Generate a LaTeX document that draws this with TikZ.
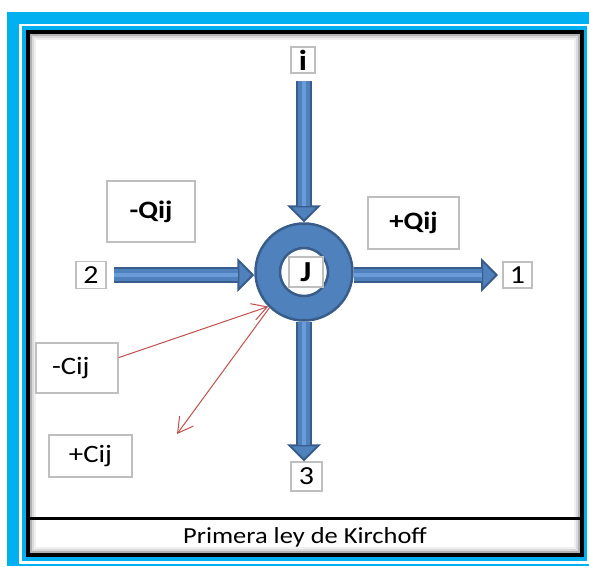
\documentclass[tikz,border=0pt]{standalone}
\usepackage{fontspec}
\setmainfont{Carlito}[FakeStretch=1.15]
\usetikzlibrary{arrows.meta}
\definecolor{cyanband}{HTML}{00B0F0}
\definecolor{jblue}{HTML}{4F81BD}
\definecolor{jdark}{HTML}{385D8A}
\definecolor{jlight}{HTML}{6B9BD8}
\definecolor{boxgray}{HTML}{BFBFBF}
\definecolor{cred}{HTML}{C0504D}
\begin{document}
\begin{tikzpicture}[x=1pt, y=-1pt, line join=miter,
	box/.style={draw=boxgray, line width=1.5pt, fill=white, inner sep=0pt, font=\fontsize{25}{28}\selectfont},
	boldbox/.style={box, font=\bfseries\fontsize{25}{28}\selectfont},
	num/.style={box, font=\fontsize{26}{28}\selectfont},
	flow/.style={draw=jdark, line width=16pt, -{Triangle[length=17pt,width=34pt,line width=2pt,fill=jblue,color=jdark]},
		postaction={draw=jblue, line width=12pt, arrows=-, shorten >=16pt},
		postaction={draw=jlight, line width=4pt, arrows=-, shorten >=16pt}},
	cflow/.style={draw=cred, line width=1pt, -{Straight Barb[length=15pt,width=17pt]}}]
	\useasboundingbox (0,0) rectangle (589,566);
	% frame
	\fill[cyanband] (7,12) rectangle (589,566);
	\draw[white, line width=2.5pt] (20.5,25) rectangle (588.5,562.5);
	\draw[line width=4pt, fill=white] (28,31.5) rectangle (581.5,554.5);
	\foreach \d/\g in {7/6, 5/14, 3/30}
		\draw[black!\g, line width=2pt] (28+\d,31.5+\d) rectangle (581.5-\d,554.5-\d);
	\draw[line width=3pt] (28,518.5) -- (581.5,518.5);
	\node[font=\fontsize{23}{25}\selectfont] (title) at (305,537) {Primera ley de Kirchoff};
	% node J
	\node[circle, draw=jdark, line width=2.5pt, fill=jblue, minimum size=97pt, inner sep=0pt] (ring) at (304,272) {};
	\node[circle, draw=jdark, line width=2.5pt, fill=white, minimum size=48pt, inner sep=0pt] (hole) at (ring) {};
	\node[box, font=\bfseries\fontsize{29}{30}\selectfont, minimum width=34pt, minimum height=30pt] (J) at (306,272) {J};
	% pipes
	\node[num, font=\bfseries\fontsize{29}{30}\selectfont, minimum width=24pt, minimum height=26pt] (ni) at (303,60) {i};
	\node[num, minimum width=30pt, minimum height=27pt] (n2) at (91,275) {2};
	\node[num, minimum width=29pt, minimum height=26pt, outer sep=5pt] (n1) at (517.5,275) {1};
	\node[num, minimum width=31pt, minimum height=29pt] (n3) at (306.5,476.5) {3};
	\draw[flow, shorten <=7pt] (ring.north |- ni.south) -- (ring.north);
	\draw[flow, shorten <=7pt] (n2.east) -- (n2.east -| ring.west);
	\draw[flow] (ring.east |- n1.west) -- (n1.west);
	\draw[flow] (ring.south) -- (ring.south |- n3.north);
	% flows and loads
	\node[boldbox, minimum width=88pt, minimum height=61pt] (qm) at (151,211.5) {-Qij};
	\node[boldbox, minimum width=91pt, minimum height=52pt] (qp) at (413.5,223) {+Qij};
	\node[box, minimum height=50pt, text width=50pt, inner xsep=16pt, align=left] (cm) at (77,368) {-Cij};
	\node[box, minimum width=83pt, minimum height=42pt] (cp) at (90.5,456) {+Cij};
	\coordinate (ctip) at (177,434);
	\draw[cflow] (cm.14) -- (ring.224);
	\draw[cflow] (ring.226) -- (ctip);
\end{tikzpicture}
\end{document}
